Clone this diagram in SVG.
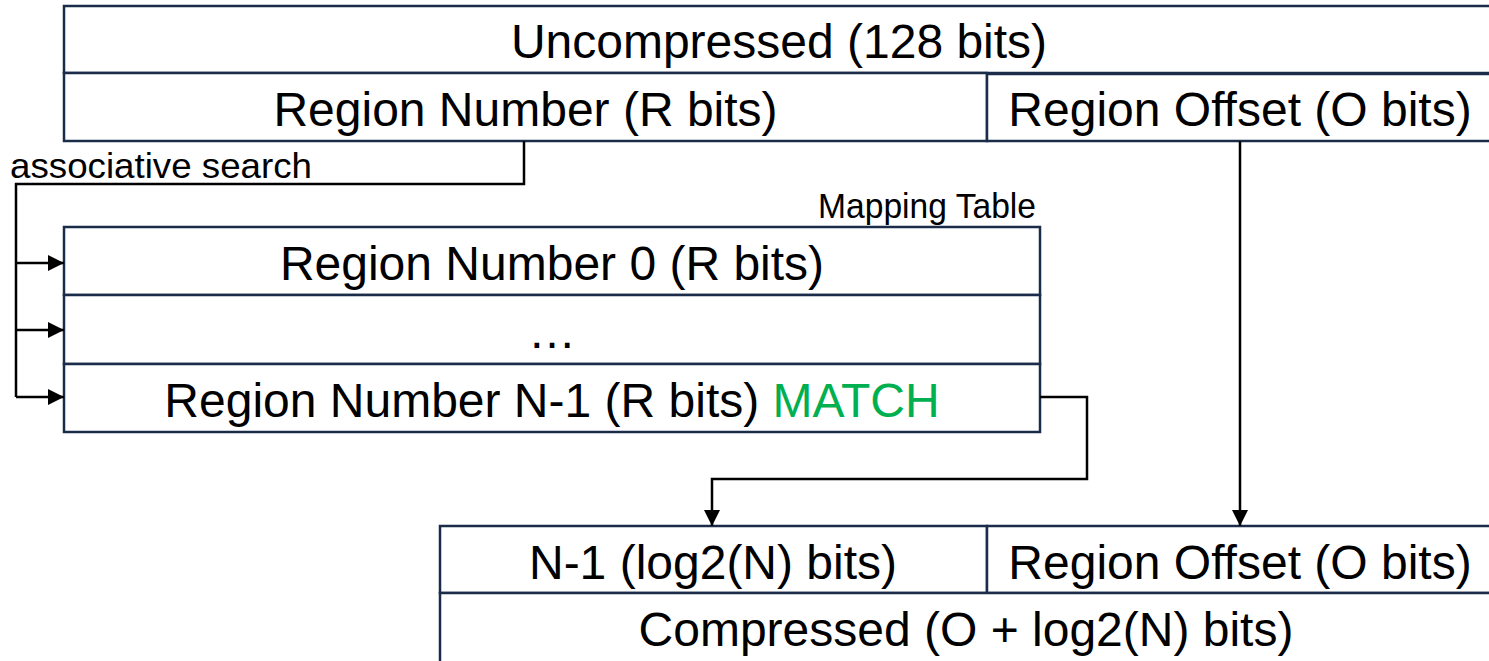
<svg xmlns="http://www.w3.org/2000/svg" width="1489" height="661" viewBox="0 0 1489 661">
  <style>
    .cell { fill: #ffffff; stroke: #1b2c4a; stroke-width: 2.5; }
    .big { font-family: "Liberation Sans", Arial, sans-serif; font-size: 48px; fill: #000000; text-anchor: middle; }
    .small { font-family: "Liberation Sans", Arial, sans-serif; font-size: 35px; fill: #000000; }
    .wire { fill: none; stroke: #000000; stroke-width: 2.5; }
    .match { fill: #00b050; }
  </style>
  <defs>
    <marker id="head" viewBox="0 0 10 10" refX="10" refY="5" markerWidth="6.5" markerHeight="6.5" markerUnits="strokeWidth" orient="auto">
      <path d="M0,0 L10,5 L0,10 Z" fill="#000000"/>
    </marker>
  </defs>

  <rect width="1489" height="661" fill="#ffffff"/>

  <!-- Uncompressed address -->
  <g id="uncompressed">
    <rect class="cell" x="64" y="6" width="1430" height="67"/>
    <text class="big" x="779" y="58">Uncompressed (128 bits)</text>
  </g>
  <g id="region-number">
    <rect class="cell" x="64" y="73" width="923" height="68"/>
    <text class="big" x="525.5" y="126">Region Number (R bits)</text>
  </g>
  <g id="region-offset">
    <rect class="cell" x="987" y="74" width="507" height="67"/>
    <text class="big" x="1240" y="126">Region Offset (O bits)</text>
  </g>

  <text id="search-label" class="small" x="10" y="178" textLength="302" lengthAdjust="spacingAndGlyphs">associative search</text>

  <!-- Mapping table -->
  <g id="mapping-table">
    <text class="small" x="1036" y="218" text-anchor="end" textLength="218" lengthAdjust="spacingAndGlyphs">Mapping Table</text>
    <rect class="cell" x="64" y="227" width="976" height="68"/>
    <text class="big" x="552" y="280">Region Number 0 (R bits)</text>
    <rect class="cell" x="64" y="295" width="976" height="69"/>
    <text class="big" x="552" y="348">…</text>
    <rect class="cell" x="64" y="364" width="976" height="68"/>
    <text class="big" x="552" y="417">Region Number N-1 (R bits) <tspan class="match">MATCH</tspan></text>
  </g>

  <!-- Compressed address -->
  <g id="index-field">
    <rect class="cell" x="440" y="526" width="547" height="67"/>
    <text class="big" x="713" y="579">N-1 (log2(N) bits)</text>
  </g>
  <g id="offset-field">
    <rect class="cell" x="987" y="526" width="507" height="67"/>
    <text class="big" x="1240" y="579">Region Offset (O bits)</text>
  </g>
  <g id="compressed">
    <rect class="cell" x="440" y="593" width="1054" height="70"/>
    <text class="big" x="966" y="646">Compressed (O + log2(N) bits)</text>
  </g>

  <!-- Connectors -->
  <g id="connectors">
    <polyline class="wire" points="524,141 524,184 16,184 16,397"/>
    <line class="wire" x1="16" y1="263" x2="64" y2="263" marker-end="url(#head)"/>
    <line class="wire" x1="16" y1="330" x2="64" y2="330" marker-end="url(#head)"/>
    <line class="wire" x1="16" y1="397" x2="64" y2="397" marker-end="url(#head)"/>
    <polyline class="wire" points="1040,397 1087,397 1087,479 712,479 712,526" marker-end="url(#head)"/>
    <line class="wire" x1="1240" y1="141" x2="1240" y2="526" marker-end="url(#head)"/>
  </g>
</svg>
